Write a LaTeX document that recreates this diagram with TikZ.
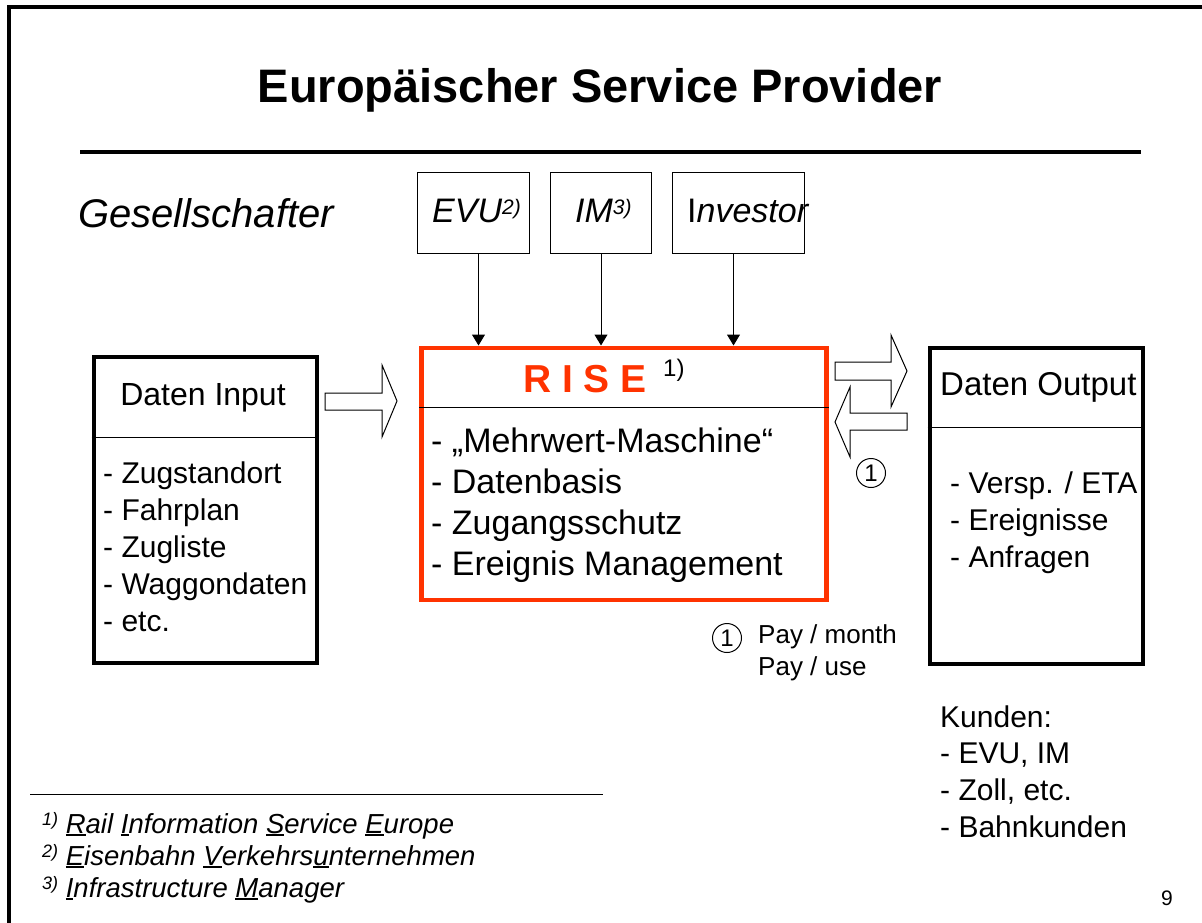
\documentclass[tikz,border=0pt]{standalone}
\usepackage{fontspec}
\setmainfont{Liberation Sans}
\usetikzlibrary{arrows.meta}
\definecolor{risered}{HTML}{FF3300}
\newcommand\fsz[1]{\fontsize{#1}{#1}\selectfont}
\newcommand\hoch[1]{\raisebox{8pt}{\fsz{21}#1}}
\newcommand\fnmark[1]{\raisebox{8pt}{\fsz{18}#1}}
\newcommand\ulin[1]{\sbox0{#1}\rlap{\rule[-3pt]{\wd0}{2pt}}\usebox0}
\tikzset{
  plainbox/.style={draw, line width=1pt, inner sep=0pt, anchor=north west},
  thickbox/.style={draw, line width=4pt, inner sep=0pt, anchor=north west},
  txt/.style={anchor=base west, inner sep=0pt},
  numcirc/.style={draw, circle, line width=1pt, inner sep=0pt, minimum size=29pt, font=\fsz{24}},
  hollow/.style={draw, line width=1pt, fill=white, line join=miter},
  feed/.style={-{Triangle[length=11pt,width=13pt]}, line width=1pt}
}
\begin{document}
\begin{tikzpicture}[x=1pt,y=-1pt]
  \useasboundingbox (0,0) rectangle (1202,923);
  % slide frame
  \draw[line width=4pt] (9,923) -- (9,7.5) -- (1202,7.5);
  % title
  \node[anchor=base, inner sep=0pt, font=\bfseries\fsz{47}] (title) at (600,103) {Europäischer Service Provider};
  \draw[line width=4pt] (80,152) -- (1141,152);
  \node[txt, font=\itshape\fsz{40}] (ges) at (78,227) {Gesellschafter};
  % shareholders
  \node[plainbox, minimum width=112pt, minimum height=81pt] (evu) at (417,172) {};
  \node[plainbox, minimum width=101pt, minimum height=81pt] (im) at (550,172) {};
  \node[plainbox, minimum width=132pt, minimum height=81pt] (inv) at (672,172) {};
  \node[txt, font=\itshape\fsz{34}] (evutxt) at (432,222) {EVU\hoch{2)}};
  \node[txt, font=\itshape\fsz{34}] (imtxt) at (575,222) {IM\hoch{3)}};
  \node[txt, font=\fsz{34}] (invtxt) at (687,222) {I\textit{nvestor}};
  % RISE
  \node[thickbox, draw=risered, line width=4.5pt, minimum width=405pt, minimum height=252pt] (rise) at (419,345.5) {};
  \draw[line width=1pt] (rise.west |- 0,407) -- (rise.east |- 0,407);
  \node[txt, font=\bfseries\fsz{39}, text=risered] (risename) at (523,392) {R I S E};
  \node[txt, font=\fsz{24}] (risemark) at (663,376) {1)};
  \foreach \entry [count=\i] in {- „Mehrwert-Maschine“, - Datenbasis, - Zugangsschutz, - Ereignis Management}
    \node[txt, font=\fsz{34}] (rise-\i) at (431,411+41*\i) {\entry};
  % feeds into RISE
  \draw[feed] ([xshift=5pt]evu.south) -- ([xshift=5pt]evu.south |- rise.north);
  \draw[feed] (im.south) -- (im.south |- rise.north);
  \draw[feed] ([xshift=-5pt]inv.south) -- ([xshift=-5pt]inv.south |- rise.north);
  % data input
  \node[thickbox, minimum width=223.5pt, minimum height=305.5pt] (inbox) at (91.5,355) {};
  \draw[line width=1pt] (inbox.west |- 0,437) -- (inbox.east |- 0,437);
  \node[anchor=base, inner sep=0pt, font=\fsz{32}] (intitle) at (203,405) {Daten Input};
  \foreach \entry [count=\i] in {- Zugstandort, - Fahrplan, - Zugliste, - Waggondaten, - etc.}
    \node[txt, font=\fsz{30}] (in-\i) at (103,446+37*\i) {\entry};
  % data output
  \node[thickbox, minimum width=213pt, minimum height=316pt] (outbox) at (927.5,345.5) {};
  \draw[line width=1pt] (outbox.west |- 0,427) -- (outbox.east |- 0,427);
  \node[txt, font=\fsz{33}] (outtitle) at (940,395) {Daten Output};
  \foreach \entry [count=\i] in {- Versp. / ETA, - Ereignisse, - Anfragen}
    \node[txt, font=\fsz{30}] (out-\i) at (950,456+37*\i) {\entry};
  % block arrows
  \draw[hollow] (325,393) -- (382,393) -- (382,365) -- (397,401) -- (382,437) -- (382,410) -- (325,410) -- cycle;
  \draw[hollow] (835,362) -- (891,362) -- (891,335) -- (907,371) -- (891,407) -- (891,380) -- (835,380) -- cycle;
  \draw[hollow] (907,413) -- (850,413) -- (850,387) -- (835,422) -- (850,457) -- (850,430) -- (907,430) -- cycle;
  \node[numcirc] (pay) at (871,473) {1};
  % payment key
  \node[numcirc] (paykey) at (727,638) {1};
  \node[txt, font=\fsz{26}] (pay-1) at (758,643) {Pay / month};
  \node[txt, font=\fsz{26}] (pay-2) at (758,675) {Pay / use};
  % customers
  \node[txt, font=\fsz{30}] (kunden) at (940,727) {Kunden:};
  \foreach \entry [count=\i] in {{- EVU, IM}, {- Zoll, etc.}, - Bahnkunden}
    \node[txt, font=\fsz{30}] (kunde-\i) at (940,727+36.7*\i) {\entry};
  % footnotes
  \draw[line width=1pt] (30,794) -- (603,794);
  \node[txt, font=\itshape\fsz{27.5}] (fn-1) at (42,833) {\fnmark{1)} \ulin{R}ail \ulin{I}nformation \ulin{S}ervice \ulin{E}urope};
  \node[txt, font=\itshape\fsz{27.5}] (fn-2) at (42,865) {\fnmark{2)} \ulin{E}isenbahn \ulin{V}erkehrs\ulin{u}nternehmen};
  \node[txt, font=\itshape\fsz{27.5}] (fn-3) at (42,897) {\fnmark{3)} \ulin{I}nfrastructure \ulin{M}anager};
  \node[txt, font=\fsz{21}] (page) at (1161,905) {9};
\end{tikzpicture}
\end{document}
